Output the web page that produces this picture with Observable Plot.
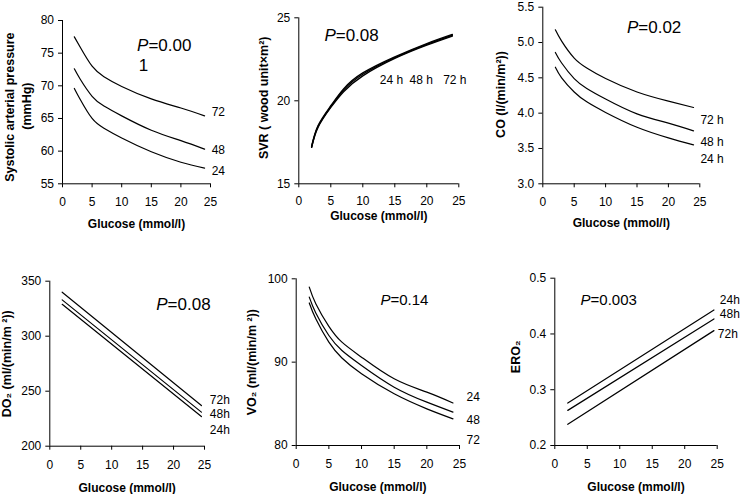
<!DOCTYPE html>
<html><head><meta charset="utf-8">
<script src="https://cdn.jsdelivr.net/npm/d3@7"></script>
<script src="https://cdn.jsdelivr.net/npm/@observablehq/plot@0.6"></script>
<style>
html,body{margin:0;padding:0;background:#fff;}
#chart{position:relative;width:740px;height:494px;background:#fff;}
#chart svg{position:absolute;left:0;top:0;}
</style></head><body><div id="chart"></div>
<script>
// ---- data ----
const glucose = [2, 3, 5, 7, 10, 15, 20, 24];
const glucoseLin = [2, 24.5];
const xTicks = [0, 5, 10, 15, 20, 25];

// Panel 1: systolic arterial pressure (mmHg)
const sapSeries = ["72", "48", "24"];
const sap72 = [77.5, 75.9, 73.0, 71.4, 69.9, 68.0, 66.6, 65.4];
const sap48 = [72.6, 71.0, 68.4, 66.9, 65.4, 63.2, 61.6, 60.3];
const sap24 = [69.6, 67.9, 65.0, 63.5, 62.0, 59.9, 58.3, 57.4];
const sapTicks = [55, 60, 65, 70, 75, 80];

// Panel 2: SVR
const svrSeries = ["24 h", "48 h", "72 h"];
const svr24 = [17.2, 18.4, 19.6, 20.55, 21.5, 22.55, 23.35, 23.9];
const svr48 = [17.2, 18.45, 19.65, 20.65, 21.6, 22.6, 23.4, 23.95];
const svr72 = [17.25, 18.5, 19.7, 20.72, 21.68, 22.65, 23.45, 24.0];
const svrTicks = [15, 20, 25];

// Panel 3: CO
const coSeries = ["72 h", "48 h", "24 h"];
const co72 = [5.18, 5.02, 4.78, 4.64, 4.49, 4.30, 4.17, 4.08];
const co48 = [4.86, 4.71, 4.49, 4.35, 4.20, 3.99, 3.86, 3.75];
const co24 = [4.65, 4.50, 4.30, 4.16, 4.01, 3.80, 3.65, 3.55];
const coTicks = [3.0, 3.5, 4.0, 4.5, 5.0, 5.5];

// Panel 4: DO2
const do2Series = ["72h", "48h", "24h"];
const do272 = [340, 237];
const do248 = [333, 231];
const do224 = [329, 227];
const do2Ticks = [200, 250, 300, 350];

// Panel 5: VO2
const vo2Series = ["24", "48", "72"];
const vo224 = [99.0, 97.0, 94.3, 92.4, 90.6, 88.0, 86.4, 85.1];
const vo248 = [97.8, 95.9, 93.2, 91.4, 89.6, 87.0, 85.2, 84.0];
const vo272 = [97.1, 95.2, 92.4, 90.5, 88.6, 86.2, 84.4, 83.2];
const vo2Ticks = [80, 90, 100];

// Panel 6: ERO2
const eroSeries = ["24h", "48h", "72h"];
const ero24 = [0.276, 0.443];
const ero48 = [0.263, 0.427];
const ero72 = [0.238, 0.406];
const eroTicks = [0.2, 0.3, 0.4, 0.5];

// Annotations (data coordinates)
const sapLabels = [{x: 25.2, y: 65.9, t: "72"}, {x: 25.2, y: 60.2, t: "48"}, {x: 25.2, y: 57.0, t: "24"}];
const svrLabels = [{x: 12.66, y: 21.27, t: "24 h"}, {x: 17.3, y: 21.27, t: "48 h"}, {x: 22.56, y: 21.27, t: "72 h"}];
const coLabels = [{x: 25.1, y: 3.906, t: "72 h"}, {x: 25.1, y: 3.589, t: "48 h"}, {x: 25.1, y: 3.344, t: "24 h"}];
const do2Labels = [{x: 25.86, y: 242.2, t: "72h"}, {x: 25.86, y: 229.5, t: "48h"}, {x: 25.86, y: 214.9, t: "24h"}];
const vo2Labels = [{x: 26.07, y: 85.8, t: "24"}, {x: 26.07, y: 83.1, t: "48"}, {x: 26.07, y: 80.6, t: "72"}];
const eroLabels = [{x: 25.4, y: 0.46, t: "24h"}, {x: 25.4, y: 0.435, t: "48h"}, {x: 25.1, y: 0.40, t: "72h"}];

const FONT = '"Liberation Sans", Arial, Helvetica, sans-serif';

function rowsOf(xs, names, arrays) {
  const rows = [];
  names.forEach((n, k) => arrays[k].forEach((v, i) => rows.push({glucose: xs[i], value: v, series: n})));
  return rows;
}

function panel(o) {
  const [x0, y0, x1, y1] = o.frame;
  const pMarks = o.p.map(p => [
    Plot.text([p], {x: "x", y: "y", text: () => "P", textAnchor: "start", fontStyle: "italic", fontSize: o.pSize}),
    Plot.text([p], {x: "x", y: "y", text: "t", textAnchor: "start", fontSize: o.pSize, dx: o.pSize * 0.667})
  ]).flat();
  return Plot.plot({
    width: 740, height: 494,
    marginLeft: x0, marginTop: y0, marginRight: 740 - x1, marginBottom: 494 - y1,
    style: {background: "transparent", fontFamily: FONT, fontSize: "12px", color: "#000", overflow: "visible"},
    x: {domain: [0, 25], ticks: xTicks, tickSize: 4, tickPadding: o.xPad || 10, label: null},
    y: {domain: o.yDomain, ticks: o.yTicks, tickSize: 4, tickPadding: 4.5, label: null, tickFormat: o.yFormat},
    marks: [
      Plot.ruleX([0], {stroke: "#000"}),
      Plot.ruleY([o.yDomain[0]], {stroke: "#000"}),
      Plot.line(o.rows, {x: "glucose", y: "value", z: "series", stroke: "#000", strokeWidth: o.sw || 1.2, curve: "natural"}),
      Plot.text(o.labels, {x: "x", y: "y", text: "t", textAnchor: "start", fontSize: 12}),
      ...pMarks,
      ...(o.extra ? [Plot.text(o.extra, {x: "x", y: "y", text: "t", textAnchor: "start", fontSize: o.pSize})] : []),
      ...o.yTitle.map(t => Plot.text([t.t], {frameAnchor: "left", textAnchor: "middle", lineAnchor: "middle", rotate: -90, dx: t.dx, dy: t.dy, fontWeight: "bold", fontSize: 12.5})),
      Plot.text(["Glucose (mmol/l)"], {frameAnchor: "bottom", textAnchor: "middle", lineAnchor: "middle", dy: o.xTitleDy, fontWeight: "bold", fontSize: 12})
    ]
  });
}

const chart = document.getElementById("chart");
const panels = [
  {frame: [62, 20, 210, 183.3], yDomain: [55, 80], yTicks: sapTicks,
   rows: rowsOf(glucose, sapSeries, [sap72, sap48, sap24]), labels: sapLabels,
   p: [{x: 12.6, y: 76.2, t: "=0.00"}], pSize: 17, extra: [{x: 12.9, y: 73.1, t: "1"}],
   yTitle: [{t: "Systolic arterial pressure", dx: -52.7, dy: 5}, {t: "(mmHg)", dx: -35.3, dy: 4}], xTitleDy: 40},
  {frame: [298.3, 17.3, 458.3, 183.3], yDomain: [15, 25], yTicks: svrTicks,
   rows: rowsOf(glucose, svrSeries, [svr24, svr48, svr72]), labels: svrLabels, sw: 1.4,
   p: [{x: 4.0, y: 23.93, t: "=0.08"}], pSize: 17, xPad: 9,
   yTitle: [{t: "SVR ( wood unit×m²)", dx: -35, dy: -3}], xTitleDy: 32.5},
  {frame: [542.3, 6.7, 699.3, 183.3], yDomain: [3, 5.5], yTicks: coTicks, yFormat: d3.format(".1f"),
   rows: rowsOf(glucose, coSeries, [co72, co48, co24]), labels: coLabels,
   p: [{x: 13.4, y: 5.21, t: "=0.02"}], pSize: 17,
   yTitle: [{t: "CO (l/(min/m²))", dx: -42.3, dy: -1}], xTitleDy: 39.4},
  {frame: [49.3, 280.7, 204, 445.7], yDomain: [200, 350], yTicks: do2Ticks,
   rows: rowsOf(glucoseLin, do2Series, [do272, do248, do224]), labels: do2Labels,
   p: [{x: 17.2, y: 328.8, t: "=0.08"}], pSize: 17,
   yTitle: [{t: "DO₂ (ml/(min/m ²))", dx: -42.6, dy: 0}], xTitleDy: 41.6},
  {frame: [295.7, 278.3, 459, 445], yDomain: [80, 100], yTicks: vo2Ticks,
   rows: rowsOf(glucose, vo2Series, [vo224, vo248, vo272]), labels: vo2Labels,
   p: [{x: 12.9, y: 97.4, t: "=0.14"}], pSize: 15,
   yTitle: [{t: "VO₂ (ml/(min/m ²))", dx: -44.7, dy: 0}], xTitleDy: 42},
  {frame: [554.3, 277.7, 716.7, 445], yDomain: [0.2, 0.5], yTicks: eroTicks, yFormat: d3.format(".1f"),
   rows: rowsOf(glucoseLin, eroSeries, [ero24, ero48, ero72]), labels: eroLabels,
   p: [{x: 3.96, y: 0.46, t: "=0.003"}], pSize: 15,
   yTitle: [{t: "ERO₂", dx: -39.3, dy: -5}], xTitleDy: 42}
];
panels.forEach(o => chart.appendChild(panel(o)));
</script></body></html>
